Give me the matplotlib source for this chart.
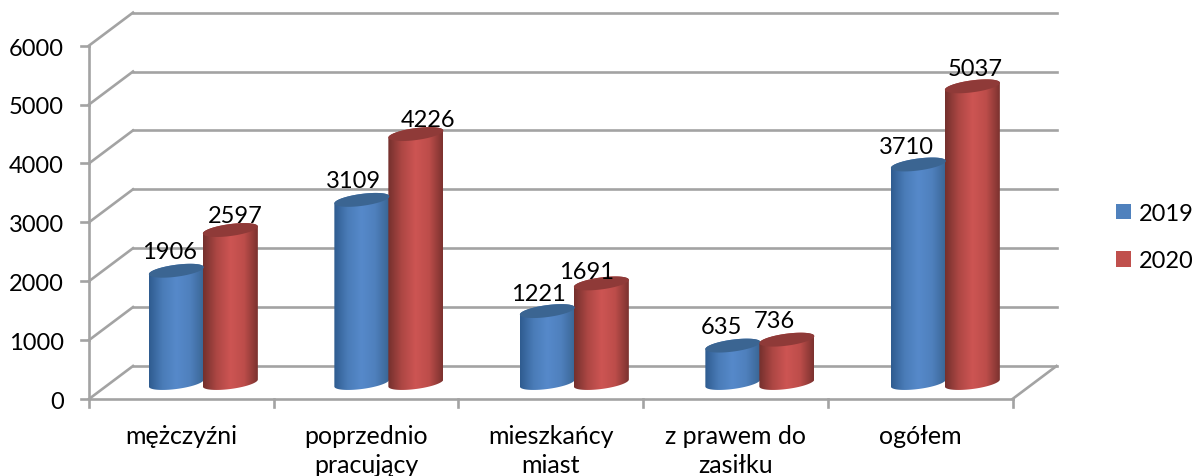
"""Grouped pseudo-3D cylinder chart, 2019 vs 2020."""

import matplotlib

matplotlib.use("Agg")
import matplotlib.pyplot as plt
import numpy as np
from matplotlib.colors import to_rgb
from matplotlib.patches import Patch, PathPatch
from matplotlib.path import Path

categories = ["mężczyźni", "poprzednio\npracujący", "mieszkańcy\nmiast", "z prawem do\nzasiłku", "ogółem"]
values_2019 = [1906, 3109, 1221, 635, 3710]
values_2020 = [2597, 4226, 1691, 736, 5037]
y_ticks = [0, 1000, 2000, 3000, 4000, 5000, 6000]

# label nudges in pixels, from the centre of each cylinder top
nudge_2019 = [(-7, 19), (-8, 19), (-9, 18), (-11, 19), (-12, 18)]
nudge_2020 = [(5, 15), (12, 15), (-15, 12), (-12, 19), (3, 18)]

WIDTH, HEIGHT = 1193, 477
X0, Y0 = 89, 400  # pixel position of the front axis corner
PX_PER_CAT = 184.7
PX_PER_UNIT = 0.0589
DEPTH_X = 44 / PX_PER_CAT
DEPTH_Y = 33 / PX_PER_UNIT
BAR_STEP = 185.5 / PX_PER_CAT
GRID = "#a3a3a3"
FONT = "Lato"
FS = 17
FS_CAT = 18

BLUE = ("#2f5c90", "#4a7cb8", "#5689ca", "#4f80bd", "#3a6695")
RED = ("#74302d", "#ad4744", "#cd5553", "#bd4d4a", "#7c322f")
BLUE_TOP = "#3b6592"
RED_TOP = "#8f3a38"


def px_x(n):
    return n / PX_PER_CAT


def px_y(n):
    return n / PX_PER_UNIT


def cylinder(ax, xc, value, stops, top_color):
    """One cylinder standing on the floor, with its axis at category position xc."""
    half = px_x(27.5)
    tilt = px_y(3.5)
    b = px_y(6)
    base = px_y(400 - 384)
    t = np.linspace(0, np.pi, 40)

    # lower half of the base, upper half of the top
    xs_low = xc - half * np.cos(t)
    ys_low = base - b * np.sin(t) - tilt * np.cos(t)
    xs_up = xc + half * np.cos(t)
    ys_up = base + value + b * np.sin(t) + tilt * np.cos(t)
    outline = np.column_stack([np.r_[xs_low, xs_up], np.r_[ys_low, ys_up]])
    path = Path(np.vstack([outline, outline[:1]]), closed=True)
    body = PathPatch(path, fc="none", ec="none", transform=ax.transData)
    ax.add_patch(body)

    pos = np.linspace(0, 1, 5)
    rgb = np.array([to_rgb(c) for c in stops])
    grid = np.linspace(0, 1, 110)
    shade = np.stack([np.interp(grid, pos, rgb[:, i]) for i in range(3)], axis=-1)[None, :, :]
    img = ax.imshow(
        shade,
        extent=(xc - half, xc + half, base - 2 * b, base + value + 2 * b),
        aspect="auto",
        zorder=3,
        interpolation="bilinear",
    )
    img.set_clip_path(body)

    # visible top face
    t = np.linspace(0, 2 * np.pi, 80)
    ax.fill(
        xc + half * np.cos(t),
        base + value + b * np.sin(t) + tilt * np.cos(t),
        color=top_color,
        lw=0,
        zorder=4,
    )


fig = plt.figure(figsize=(WIDTH / 100, HEIGHT / 100), dpi=100)
ax = fig.add_axes([0, 0, 1, 1])
ax.axis("off")

n = len(categories)
top = y_ticks[-1]

# walls and floor
for tick in y_ticks:
    ax.plot([0, DEPTH_X], [tick, tick + DEPTH_Y], color=GRID, lw=1.9, zorder=1)
    ax.plot([DEPTH_X, n + DEPTH_X], [tick + DEPTH_Y] * 2, color=GRID, lw=1.9, zorder=1)
    ax.plot([-px_x(8), 0], [tick, tick], color=GRID, lw=1.9, zorder=1)
    ax.text(px_x(-25), tick - px_y(2.5), str(tick), ha="right", va="center", fontsize=FS, family=FONT, color="black")
ax.plot([0, 0], [0, top], color=GRID, lw=1.9, zorder=2)
ax.plot([0, n], [0, 0], color=GRID, lw=1.9, zorder=2)
ax.plot([n, n + DEPTH_X], [0, DEPTH_Y], color=GRID, lw=1.9, zorder=2)
for i in range(n + 1):
    ax.plot([i, i], [0, -px_y(8)], color=GRID, lw=1.9, zorder=2)

first = 0.5 + DEPTH_X / 2
for i, cat in enumerate(categories):
    ax.text(i + 0.5, -px_y(25), cat, ha="center", va="top", fontsize=FS_CAT, family=FONT,
            color="black", linespacing=1.3, clip_on=False)

    centre = first + i * BAR_STEP
    xb = centre - px_x(27)
    xr = centre + px_x(27)
    cylinder(ax, xb, values_2019[i], BLUE, BLUE_TOP)
    cylinder(ax, xr, values_2020[i], RED, RED_TOP)

    base = px_y(400 - 384)
    for xc, val, nudge in ((xb, values_2019[i], nudge_2019[i]), (xr, values_2020[i], nudge_2020[i])):
        ax.text(xc + px_x(nudge[0]), base + val + px_y(nudge[1]), str(val), ha="center", va="center",
                fontsize=FS, family=FONT, color="black", zorder=6)

ax.set_xlim(-X0 / PX_PER_CAT, (WIDTH - X0) / PX_PER_CAT)
ax.set_ylim((Y0 - HEIGHT) / PX_PER_UNIT, Y0 / PX_PER_UNIT)

handles = [Patch(fc="#4f81bd", label="2019"), Patch(fc="#c0504d", label="2020")]
ax.legend(
    handles=handles,
    loc="center left",
    bbox_to_anchor=(1116 / WIDTH, 1 - 238 / HEIGHT),
    frameon=False,
    prop={"family": FONT, "size": FS},
    handlelength=0.65,
    handleheight=0.65,
    handletextpad=0.3,
    labelspacing=1.12,
    borderpad=0,
    borderaxespad=0,
)

fig.savefig("out.png", dpi=100)
plt.close(fig)
